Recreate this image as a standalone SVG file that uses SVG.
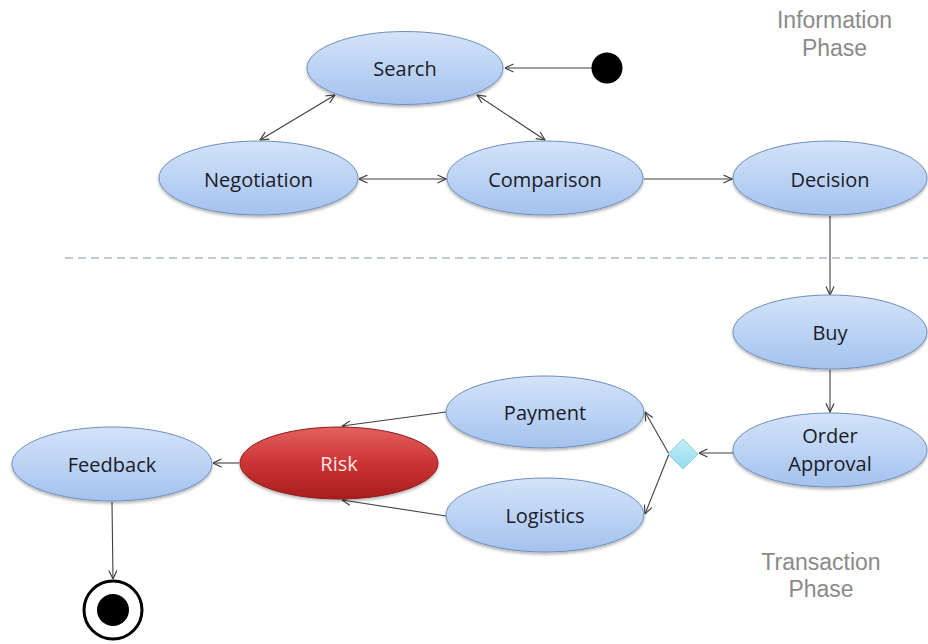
<svg xmlns="http://www.w3.org/2000/svg" width="928" height="644" viewBox="0 0 928 644">
  <defs>
    <linearGradient id="blueFill" x1="0" y1="0" x2="0" y2="1">
      <stop offset="0" stop-color="#d3e3f9"/>
      <stop offset="0.5" stop-color="#bcd3f4"/>
      <stop offset="1" stop-color="#a3c2ee"/>
    </linearGradient>
    <linearGradient id="redFill" x1="0" y1="0" x2="0" y2="1">
      <stop offset="0" stop-color="#e46060"/>
      <stop offset="0.5" stop-color="#cc3434"/>
      <stop offset="1" stop-color="#a81e1e"/>
    </linearGradient>
    <linearGradient id="diamondFill" x1="0" y1="0" x2="0" y2="1">
      <stop offset="0" stop-color="#c4eef7"/>
      <stop offset="1" stop-color="#93dcec"/>
    </linearGradient>
    <filter id="shadow" x="-10%" y="-20%" width="120%" height="150%">
      <feGaussianBlur in="SourceAlpha" stdDeviation="1.5"/>
      <feOffset dx="0" dy="2" result="b"/>
      <feComponentTransfer><feFuncA type="linear" slope="0.3"/></feComponentTransfer>
      <feMerge><feMergeNode/><feMergeNode in="SourceGraphic"/></feMerge>
    </filter>
    <marker id="arrow" viewBox="0 0 10 10" refX="9.5" refY="5" markerWidth="10" markerHeight="10" markerUnits="userSpaceOnUse" orient="auto-start-reverse">
      <path d="M1,1 L9.5,5 L1,9" fill="none" stroke="#404040" stroke-width="1.2"/>
    </marker>
  </defs>
  <style>
    .node { fill: url(#blueFill); stroke: #6f8fbd; stroke-width: 1; filter: url(#shadow); }
    .risk { fill: url(#redFill); stroke: #8e1c1c; stroke-width: 1; filter: url(#shadow); }
    .label { font-family: "Open Sans", "Liberation Sans", Arial, sans-serif; font-size: 20px; fill: #1b1b2a; text-anchor: middle; }
    .risk-label { font-family: "Open Sans", "Liberation Sans", Arial, sans-serif; font-size: 20px; fill: #f6e6e6; text-anchor: middle; }
    .phase { font-family: "Liberation Sans", Arial, sans-serif; font-size: 23px; fill: #8a8a8a; text-anchor: middle; }
    .edge { fill: none; stroke: #404040; stroke-width: 1.1; }
    .one { marker-end: url(#arrow); }
    .two { marker-start: url(#arrow); marker-end: url(#arrow); }
  </style>

  <rect width="928" height="644" fill="#ffffff"/>

  <!-- phase separator -->
  <line x1="65" y1="258" x2="928" y2="258" stroke="#a7bccf" stroke-width="1.3" stroke-dasharray="8 5"/>

  <text class="phase" x="834.5" y="28">Information</text>
  <text class="phase" x="834.5" y="56">Phase</text>
  <text class="phase" x="821" y="570">Transaction</text>
  <text class="phase" x="821" y="597">Phase</text>

  <g id="connectors">
    <line class="edge one" x1="592" y1="68" x2="505" y2="68"/>
    <line class="edge two" x1="335" y1="95" x2="260" y2="140"/>
    <line class="edge two" x1="477" y1="95" x2="545" y2="140"/>
    <line class="edge two" x1="359" y1="179" x2="446" y2="179"/>
    <line class="edge one" x1="644" y1="179" x2="732" y2="179"/>
    <line class="edge one" x1="830" y1="216" x2="830" y2="295"/>
    <line class="edge one" x1="830" y1="370" x2="830" y2="412"/>
    <line class="edge one" x1="733" y1="453" x2="699" y2="453"/>
    <line class="edge one" x1="669" y1="454" x2="645" y2="412"/>
    <line class="edge one" x1="669" y1="454" x2="645" y2="514"/>
    <line class="edge one" x1="446" y1="412" x2="342" y2="426"/>
    <line class="edge one" x1="446" y1="516" x2="342" y2="500"/>
    <line class="edge one" x1="239" y1="463" x2="213" y2="463"/>
    <line class="edge one" x1="112" y1="502" x2="113" y2="579"/>
  </g>

  <g id="start">
    <circle cx="607" cy="68" r="15.5" fill="#000000"/>
  </g>

  <g id="search">
    <ellipse class="node" cx="405" cy="68" rx="98" ry="36.5"/>
    <text class="label" x="405" y="75.5">Search</text>
  </g>

  <g id="negotiation">
    <ellipse class="node" cx="258.5" cy="178" rx="99.5" ry="37"/>
    <text class="label" x="258.5" y="187">Negotiation</text>
  </g>

  <g id="comparison">
    <ellipse class="node" cx="545" cy="178" rx="98" ry="37"/>
    <text class="label" x="545" y="187">Comparison</text>
  </g>

  <g id="decision">
    <ellipse class="node" cx="830" cy="178" rx="97" ry="37"/>
    <text class="label" x="830" y="187">Decision</text>
  </g>

  <g id="buy">
    <ellipse class="node" cx="830" cy="332" rx="97" ry="37"/>
    <text class="label" x="830" y="340">Buy</text>
  </g>

  <g id="order-approval">
    <ellipse class="node" cx="830" cy="450" rx="97" ry="37"/>
    <text class="label" x="830" y="443">Order</text>
    <text class="label" x="830" y="471">Approval</text>
  </g>

  <g id="merge">
    <polygon points="683,439 698,454 683,469 668,454" fill="url(#diamondFill)" stroke="#8fd0de" stroke-width="1"/>
  </g>

  <g id="payment">
    <ellipse class="node" cx="545" cy="412" rx="99" ry="36"/>
    <text class="label" x="545" y="420">Payment</text>
  </g>

  <g id="logistics">
    <ellipse class="node" cx="545" cy="515" rx="99" ry="37"/>
    <text class="label" x="545" y="523">Logistics</text>
  </g>

  <g id="risk">
    <ellipse class="risk" cx="339" cy="463" rx="99" ry="36"/>
    <text class="risk-label" x="339" y="471">Risk</text>
  </g>

  <g id="feedback">
    <ellipse class="node" cx="112" cy="464" rx="100" ry="37"/>
    <text class="label" x="112" y="472">Feedback</text>
  </g>

  <g id="end">
    <circle cx="113" cy="610" r="29" fill="#ffffff" stroke="#000000" stroke-width="3"/>
    <circle cx="113" cy="610" r="16" fill="#000000"/>
  </g>
</svg>
